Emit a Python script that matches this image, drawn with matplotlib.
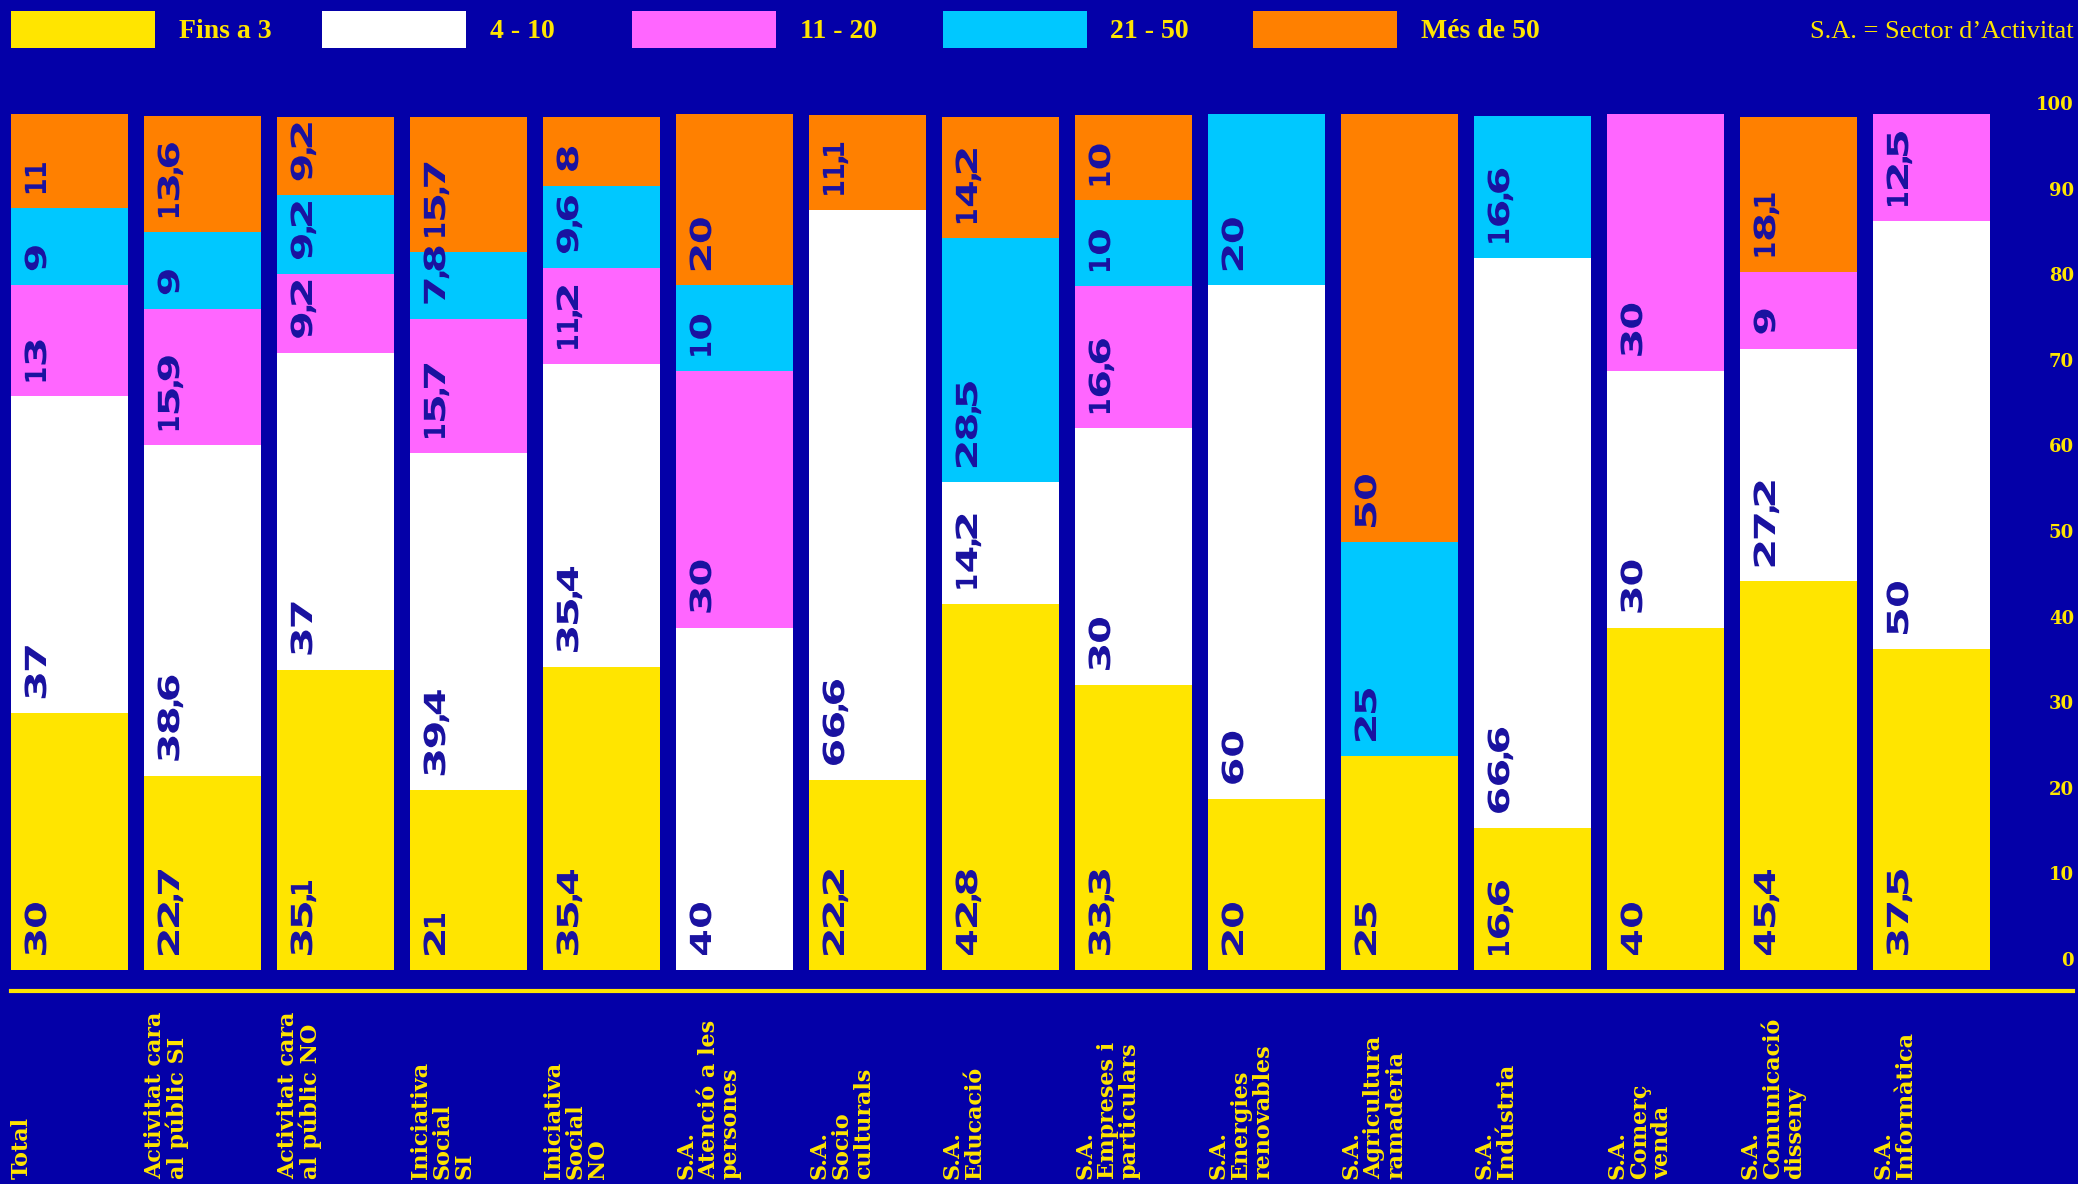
import matplotlib
matplotlib.use('Agg')
import matplotlib.pyplot as plt
import matplotlib.transforms as mtransforms
from matplotlib.lines import Line2D
from matplotlib.patches import Rectangle, PathPatch
from matplotlib.textpath import TextPath
from matplotlib.path import Path
from matplotlib.font_manager import FontProperties
import numpy as np

categories = ['Total', 'Activitat cara\nal públic SI', 'Activitat cara\nal públic NO',
              'Iniciativa\nSocial\nSI', 'Iniciativa\nSocial\nNO', 'S.A.\nAtenció a les\npersones',
              'S.A.\nSocio\nculturals', 'S.A.\nEducació', 'S.A.\nEmpreses i\nparticulars',
              'S.A.\nEnergies\nrenovables', 'S.A.\nAgricultura\nramaderia', 'S.A.\nIndústria',
              'S.A.\nComerç\nvenda', 'S.A.\nComunicació\ndisseny', 'S.A.\nInformàtica']
series_names = ['Fins a 3', '4 - 10', '11 - 20', '21 - 50', 'Més de 50']
fins3 = [30, 22.7, 35.1, 21, 35.4, 0, 22.2, 42.8, 33.3, 20, 25, 16.6, 40, 45.4, 37.5]
de4a10 = [37, 38.6, 37, 39.4, 35.4, 40, 66.6, 14.2, 30, 60, 0, 66.6, 30, 27.2, 50]
de11a20 = [13, 15.9, 9.2, 15.7, 11.2, 30, 0, 0, 16.6, 0, 0, 0, 30, 9, 12.5]
de21a50 = [9, 9, 9.2, 7.8, 9.6, 10, 0, 28.5, 10, 20, 25, 16.6, 0, 0, 0]
mes50 = [11, 13.6, 9.2, 15.7, 8, 20, 11.1, 14.2, 10, 0, 50, 0, 0, 18.1, 0]
yticks = [0, 10, 20, 30, 40, 50, 60, 70, 80, 90, 100]

bg = '#0400a8'
yellow = '#ffe500'
colors = ['#ffe500', '#ffffff', '#ff66ff', '#00c8ff', '#ff8000']
lblcol = '#1a12a0'

W, H = 2078, 1184
fig = plt.figure(figsize=(W/100, H/100), dpi=100, facecolor=bg)
ax = fig.add_axes([0, 1-970/H, 2074/W, (970-114)/H])
ax.set_facecolor(bg)
ax.set_xlim(-69.5/133, (2074-69.5)/133)
ax.set_ylim(0, 100)

# extended-looking numbers: each glyph is stretched to a set width (px), then
# the whole string is turned upright
lblfont = FontProperties(family='DejaVu Sans', weight='bold')
ink = {'1': 13, ',': 7}
gaps = {',': 1}

def wide_path(txt, size=29):
    parts, cur, prev = [], 0.0, None
    for ch in txt:
        p = TextPath((0, 0), ch, size=size, prop=lblfont)
        ext = p.get_extents()
        sx = ink.get(ch, 24) / ext.width
        if prev is not None:
            cur += gaps.get(ch, gaps.get(prev, 4))
        tr = mtransforms.Affine2D().translate(-ext.x0, 0).scale(sx, 1).translate(cur, 0)
        parts.append(tr.transform_path(p))
        cur += ext.width * sx
        prev = ch
    return Path.make_compound_path(*parts)

def seg_label(xi, b, v):
    txt = ('%g' % v).replace('.', ',')
    tr = (mtransforms.Affine2D().rotate_deg(90).translate(-23.5, 15)
          + mtransforms.ScaledTranslation(xi, b, ax.transData))
    fig.add_artist(PathPatch(wide_path(txt), transform=tr, color=lblcol, lw=0))

x = np.arange(len(categories))
series = [fins3, de4a10, de11a20, de21a50, mes50]
bottom = np.zeros(len(categories))
for vals, c in zip(series, colors):
    vals = np.array(vals, dtype=float)
    ax.bar(x, vals, 0.88, bottom=bottom, color=c, linewidth=0)
    for xi, b, v in zip(x, bottom, vals):
        if v > 0:
            seg_label(xi, b, v)
    bottom += vals

for s in ax.spines.values():
    s.set_visible(False)
ax.set_xticks([])
ax.yaxis.tick_right()
ax.set_yticks(yticks)
ax.set_yticklabels([str(t) for t in yticks])
ax.tick_params(axis='y', length=0, pad=0, colors=yellow, labelsize=13)
for lbl in ax.get_yticklabels():
    lbl.set_ha('right')
    lbl.set_va('bottom')
    lbl.set_family('DejaVu Serif')
    lbl.set_fontweight('bold')

# baseline rule
fig.add_artist(Line2D([11/W, 2073/W], [1-991/H, 1-991/H], color=yellow, lw=3))

# category labels
trans = mtransforms.blended_transform_factory(ax.transData, fig.transFigure)
for xi, cat in zip(x, categories):
    ax.text(xi - 0.44, 1-1179/H, cat, transform=trans, rotation=90, ha='left', va='bottom',
            multialignment='left', linespacing=1.0, color=yellow, fontsize=16,
            fontweight='bold', family='DejaVu Serif', clip_on=False)

# legend
for i, (name, c) in enumerate(zip(series_names, colors)):
    x0 = 11 + i*310.5
    fig.add_artist(Rectangle((x0/W, 1-48/H), 144/W, 37/H, transform=fig.transFigure,
                             color=c, lw=0))
    fig.text((x0+168)/W, 1-32/H, name, color=yellow, fontsize=20, fontweight='bold',
             family='Liberation Serif', ha='left', va='center')
fig.text(2074/W, 1-32/H, 'S.A. = Sector d\u2019Activitat', color=yellow, fontsize=19,
         family='Liberation Serif', ha='right', va='center')

fig.savefig('out.png', dpi=100, facecolor=bg)
